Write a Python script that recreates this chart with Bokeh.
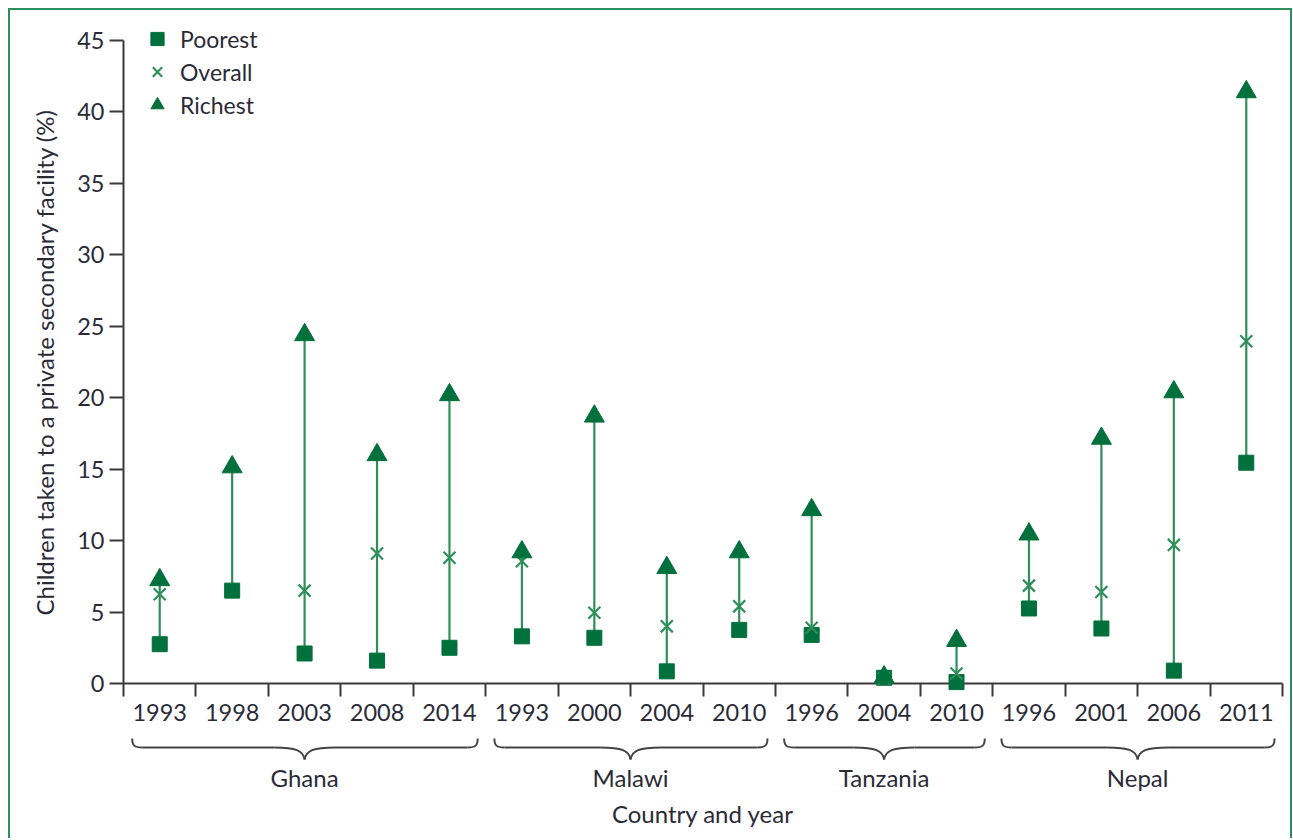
import numpy as np
from bokeh.plotting import figure
from bokeh.layouts import column
from bokeh.models import (FixedTicker, Legend, LegendItem, Range1d, LinearAxis,
                          ColumnDataSource, Title)
from bokeh.embed import file_html
from bokeh.resources import INLINE

# ---------------- data ----------------
countries = ["Ghana", "Malawi", "Tanzania", "Nepal"]
country_years = [
    ["1993", "1998", "2003", "2008", "2014"],
    ["1993", "2000", "2004", "2010"],
    ["1996", "2004", "2010"],
    ["1996", "2001", "2006", "2011"],
]
poorest = [2.75, 6.5, 2.1, 1.6, 2.5, 3.3, 3.2, 0.85, 3.75, 3.4, 0.4, 0.1, 5.25, 3.85, 0.9, 15.45]
overall = [6.25, np.nan, 6.5, 9.1, 8.8, 8.55, 4.95, 4.0, 5.4, 3.9, 0.35, 0.7, 6.85, 6.4, 9.7, 23.95]
richest = [7.25, 15.15, 24.4, 16.0, 20.2, 9.2, 18.7, 8.1, 9.2, 12.15, 0.45, 3.0, 10.45, 17.15, 20.4, 41.4]
y_ticks = [0, 5, 10, 15, 20, 25, 30, 35, 40, 45]

# ---------------- derived ----------------
years = [y for ys in country_years for y in ys]
n = len(years)
xc = np.arange(n) + 0.5
bounds = np.cumsum([0] + [len(ys) for ys in country_years])
centers = [(bounds[i] + bounds[i + 1]) / 2 for i in range(len(countries))]

DARK = "#00703c"
LIGHT = "#2e8f5a"
AXC = "#3a3a3a"
TXT = "#2b2b38"
DIGIT_FONT = "Lato"
TEXT_FONT = "Lato"

src = ColumnDataSource(dict(x=xc, poorest=np.array(poorest), overall=np.array(overall),
                            richest=np.array(richest)))

# ---------------- main figure ----------------
p = figure(width=1280, height=725, x_range=Range1d(0, n), y_range=Range1d(0, 47.1),
           output_backend="svg", toolbar_location=None,
           min_border_left=113, min_border_right=8, min_border_top=0, min_border_bottom=52,
           x_axis_type=None, y_axis_type=None)
p.outline_line_color = None
p.xgrid.visible = False
p.ygrid.visible = False
p.background_fill_color = "white"
p.border_fill_color = "white"

p.segment(x0="x", y0="poorest", x1="x", y1="richest", source=src,
          line_color=LIGHT, line_width=2.2)
sq = p.scatter("x", "poorest", source=src, marker="square", size=15,
               fill_color=DARK, line_color=DARK, level="overlay")
ov = p.scatter("x", "overall", source=src, marker="x", size=17,
               line_color=LIGHT, line_width=2.2, level="overlay")
tr = p.scatter("x", "richest", source=src, marker="triangle", size=20,
               fill_color=DARK, line_color=DARK, level="overlay")

xa = LinearAxis(
    ticker=FixedTicker(ticks=list(xc), minor_ticks=list(range(n + 1))),
    major_label_overrides={float(c): y for c, y in zip(xc, years)},
)
xa.axis_line_width = 2
xa.axis_line_color = AXC
xa.major_tick_in = 0
xa.major_tick_out = 0
xa.minor_tick_in = 0
xa.minor_tick_out = 13
xa.minor_tick_line_width = 2
xa.minor_tick_line_color = AXC
xa.major_label_standoff = 7
xa.major_label_text_font = DIGIT_FONT
xa.major_label_text_font_size = "23.5px"
xa.major_label_text_color = TXT
p.add_layout(xa, "below")

ya = LinearAxis(ticker=FixedTicker(ticks=y_ticks, minor_ticks=[]), bounds=(0, 45))
ya.axis_line_width = 2
ya.axis_line_color = AXC
ya.major_tick_in = 0
ya.major_tick_out = 14
ya.major_tick_line_width = 2
ya.major_tick_line_color = AXC
ya.minor_tick_out = 0
ya.minor_tick_in = 0
ya.major_label_standoff = 5
ya.major_label_text_font = DIGIT_FONT
ya.major_label_text_font_size = "23.5px"
ya.major_label_text_color = TXT
p.add_layout(ya, "left")

# y-axis title, placed along the 0-45 span of the axis
ytitle = Title(text="Children taken to a private secondary facility (%)", align="left",
               offset=68, standoff=32, text_font=TEXT_FONT, text_font_size="24px",
               text_font_style="normal", text_color=TXT)
p.add_layout(ytitle, "left")

# legend: (x, y) measured from the frame's bottom-left
legend = Legend(items=[LegendItem(label="Poorest", renderers=[sq]),
                       LegendItem(label="Overall", renderers=[ov]),
                       LegendItem(label="Richest", renderers=[tr])],
                location=(14, 562), margin=0, padding=0, spacing=0,
                glyph_width=40, glyph_height=33, label_standoff=3,
                label_text_font=TEXT_FONT, label_text_font_size="23px",
                label_text_color=TXT, border_line_alpha=0, background_fill_alpha=0)
p.add_layout(legend)

# ---------------- lower figure: braces + countries ----------------
p2 = figure(width=1280, height=103, x_range=p.x_range, y_range=Range1d(0, 26),
            output_backend="svg", toolbar_location=None,
            min_border_left=113, min_border_right=8, min_border_top=0, min_border_bottom=77,
            x_axis_type=None, y_axis_type=None)
p2.outline_line_color = None
p2.xgrid.visible = False
p2.ygrid.visible = False

b_left = np.array(bounds[:-1], dtype=float) + 0.12
b_right = np.array(bounds[1:], dtype=float) - 0.11
b_mid = np.array(centers, dtype=float)
Y_END, Y_BAR, Y_TIP = 23.0, 14.0, 2.0
HOOK, CURL = 0.14, 0.42
bw = dict(line_color="#444444", line_width=2)
# end hooks
p2.bezier(x0=b_left, y0=Y_END, x1=b_left + HOOK, y1=Y_BAR, cx0=b_left, cy0=Y_BAR + 2,
          cx1=b_left + 0.03, cy1=Y_BAR, **bw)
p2.bezier(x0=b_right, y0=Y_END, x1=b_right - HOOK, y1=Y_BAR, cx0=b_right, cy0=Y_BAR + 2,
          cx1=b_right - 0.03, cy1=Y_BAR, **bw)
# straight parts
p2.segment(x0=b_left + HOOK, y0=Y_BAR, x1=b_mid - CURL, y1=Y_BAR, **bw)
p2.segment(x0=b_mid + CURL, y0=Y_BAR, x1=b_right - HOOK, y1=Y_BAR, **bw)
# central point
p2.bezier(x0=b_mid - CURL, y0=Y_BAR, x1=b_mid, y1=Y_TIP, cx0=b_mid - 0.12, cy0=Y_BAR,
          cx1=b_mid - 0.02, cy1=Y_BAR - 3, **bw)
p2.bezier(x0=b_mid + CURL, y0=Y_BAR, x1=b_mid, y1=Y_TIP, cx0=b_mid + 0.12, cy0=Y_BAR,
          cx1=b_mid + 0.02, cy1=Y_BAR - 3, **bw)

ca = LinearAxis(ticker=FixedTicker(ticks=centers, minor_ticks=[]),
                major_label_overrides={float(c): name for c, name in zip(centers, countries)},
                axis_label="Country and year")
ca.axis_line_color = None
ca.major_tick_line_color = None
ca.minor_tick_line_color = None
ca.major_label_standoff = -5
ca.major_label_text_font = TEXT_FONT
ca.major_label_text_font_size = "24px"
ca.major_label_text_color = TXT
ca.axis_label_standoff = 4
ca.axis_label_text_font = TEXT_FONT
ca.axis_label_text_font_size = "24px"
ca.axis_label_text_font_style = "normal"
ca.axis_label_text_color = TXT
p2.add_layout(ca, "below")

layout = column(p, p2, spacing=0,
                styles={"margin-left": "8px", "margin-top": "8px",
                        "border-left": "2px solid #2f8f5b", "border-top": "2px solid #2f8f5b",
                        "border-right": "2px solid #2f8f5b"})

open("out.html", "w").write(file_html(layout, INLINE))
